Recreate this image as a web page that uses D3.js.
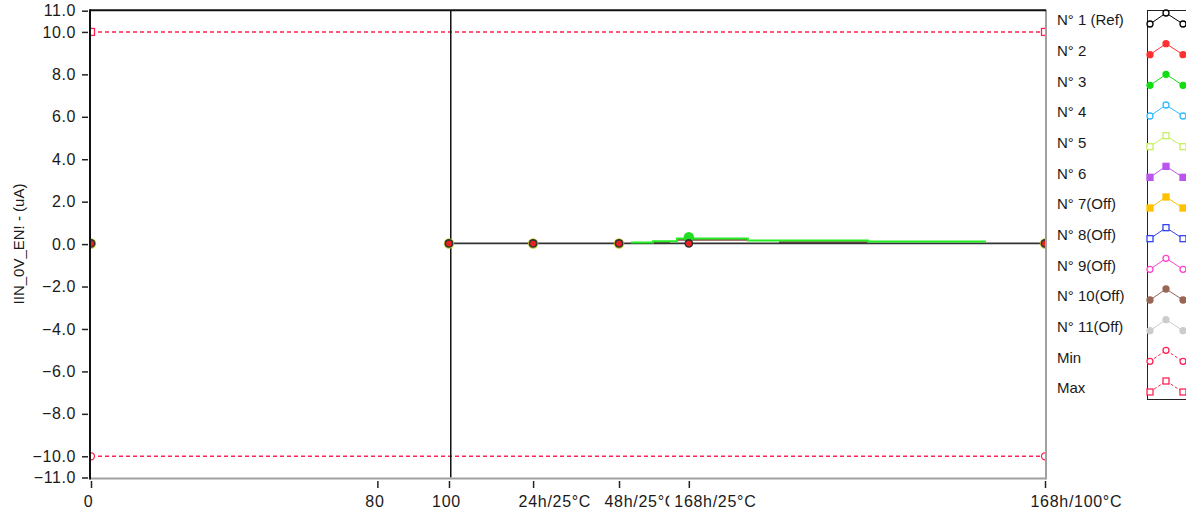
<!DOCTYPE html>
<html><head><meta charset="utf-8">
<script src="https://cdn.jsdelivr.net/npm/d3@7"></script>
<style>
body{margin:0;background:#fff}
svg{display:block}
text{font-family:"Liberation Sans",Arial,sans-serif;fill:#1a1a1a}
</style>
</head><body><svg id="c" width="1186" height="513"></svg>
<script>
// ---------- data ----------
const xTickValues = [0, 80, 100, 123.5, 147.5, 167, 266.5];
const xTickLabels = ["0", "80", "100", "24h/25°C", "48h/25°C", "168h/25°C", "168h/100°C"];
const yTickValues = [11, 10, 8, 6, 4, 2, 0, -2, -4, -6, -8, -10, -11];
const yAxisTitle = "IIN_0V_EN! - (uA)";
const seriesNames = ["N° 1 (Ref)", "N° 2", "N° 3", "N° 4", "N° 5", "N° 6", "N° 7(Off)",
  "N° 8(Off)", "N° 9(Off)", "N° 10(Off)", "N° 11(Off)", "Min", "Max"];
const pointX = [0, 80, 100, 123.5, 147.5, 167, 266.5];
const refValues = [0.03, null, 0.03, 0.03, 0.03, 0.03, 0.03];
const n2Values = [0.03, null, 0.03, 0.03, 0.03, 0.03, 0.03];
const n3Values = [0.03, null, 0.03, 0.03, 0.03, 0.33, 0.03];
const n3TraceX = [150.8, 157, 163.7, 183.5, 217, 250];
const n3TraceY = [0.08, 0.13, 0.26, 0.17, 0.12, 0.12];
const n10TraceX = [157, 161.7, 162, 163.7, 183.5, 185, 192.2, 217];
const n10TraceY = [0.07, 0.07, null, 0.21, 0.21, null, 0.09, 0.09];
const limitX = [0, 266.5];
const minValues = [-10, -10];
const maxValues = [10, 10];
const cursorX = 100.5;

// ---------- styles ----------
const seriesStyle = [
  {color: "#000000", shape: "circle", fill: false},
  {color: "#ff3030", shape: "circle", fill: true},
  {color: "#11dd11", shape: "circle", fill: true},
  {color: "#33bbff", shape: "circle", fill: false},
  {color: "#c4f060", shape: "square", fill: false},
  {color: "#bb55ee", shape: "square", fill: true},
  {color: "#ffc000", shape: "square", fill: true},
  {color: "#3344ee", shape: "square", fill: false},
  {color: "#ff44cc", shape: "circle", fill: false},
  {color: "#996655", shape: "circle", fill: true},
  {color: "#cccccc", shape: "circle", fill: true},
  {color: "#ff2255", shape: "circle", fill: false, dash: true},
  {color: "#ff2255", shape: "square", fill: false, dash: true}
];

const L = 91, R = 1045, T = 10.7, B = 477.5;
const svg = d3.select("#c");
const x = d3.scaleLinear().domain([0, 266.5]).range([L, R]);
const y = d3.scaleLinear().domain([-11, 11]).range([B, T]);

svg.append("defs").append("clipPath").attr("id", "plotclip")
  .append("rect").attr("x", L).attr("y", T - 1).attr("width", R - L).attr("height", B - T + 2);

// ---------- y axis ----------
const yAx = svg.append("g").attr("transform", "translate(88,0)")
  .call(d3.axisLeft(y).tickValues(yTickValues).tickFormat(d3.format(".1f"))
    .tickSize(6).tickSizeOuter(0).tickPadding(6));
yAx.select(".domain").remove();
yAx.selectAll("line").attr("stroke", "#222").attr("stroke-width", 1.5);
yAx.selectAll("text").attr("font-size", 16).attr("letter-spacing", "0.6px")
  .attr("font-family", "Liberation Sans, Arial, sans-serif").attr("fill", "#1a1a1a");

// ---------- x axis ----------
const xAx = svg.append("g").attr("transform", "translate(0,481)")
  .call(d3.axisBottom(x).tickValues(xTickValues).tickFormat((d, i) => xTickLabels[i])
    .tickSize(7).tickSizeOuter(0));
xAx.select(".domain").remove();
xAx.selectAll("line").attr("stroke", "#222").attr("stroke-width", 1.5);
xAx.selectAll(".tick").each(function (d, i) {
  const g = d3.select(this);
  const t = g.select("text");
  const isNum = !isNaN(+xTickLabels[i]);
  t.attr("font-size", 16).attr("letter-spacing", "0.7px")
    .attr("font-family", "Liberation Sans, Arial, sans-serif").attr("fill", "#1a1a1a")
    .attr("dy", 0).attr("y", 26)
    .attr("text-anchor", isNum ? "middle" : "start")
    .attr("x", isNum ? -3 : -15);
  const bb = t.node().getBBox();
  g.insert("rect", "text").attr("x", bb.x - 5).attr("y", bb.y).attr("width", bb.width + 5)
    .attr("height", bb.height).attr("fill", "#fff");
});

// y title
svg.append("text").attr("transform", "translate(24,244) rotate(-90)")
  .attr("text-anchor", "middle").attr("font-size", 15).text(yAxisTitle);

// ---------- plot content ----------
const plot = svg.append("g").attr("clip-path", "url(#plotclip)");

function marker(g, cx, cy, st, r) {
  if (st.shape === "circle") {
    g.append("circle").attr("cx", cx).attr("cy", cy).attr("r", r)
      .attr("fill", st.fill ? st.color : "#fff").attr("stroke", st.color).attr("stroke-width", 1.3);
  } else {
    g.append("rect").attr("x", cx - r).attr("y", cy - r).attr("width", 2 * r).attr("height", 2 * r)
      .attr("fill", st.fill ? st.color : "#fff").attr("stroke", st.color).attr("stroke-width", 1.3);
  }
}

// limits
[[minValues, seriesStyle[11]], [maxValues, seriesStyle[12]]].forEach(([vals, st]) => {
  const pts = limitX.map((d, i) => [x(d), y(vals[i])]);
  plot.append("path").attr("d", d3.line()(pts)).attr("fill", "none")
    .attr("stroke", st.color).attr("stroke-width", 1.5).attr("stroke-dasharray", "4,3");
  pts.forEach(p => marker(plot, p[0], p[1], st, 3.5));
});

// cursor
plot.append("line").attr("x1", x(cursorX)).attr("x2", x(cursorX)).attr("y1", T).attr("y2", B)
  .attr("stroke", "#111").attr("stroke-width", 1.5);

// N°10 trace
const n10Pts = n10TraceX.map((d, i) => [d, n10TraceY[i]]);
plot.append("path").attr("d", d3.line().defined(d => d[1] !== null).x(d => x(d[0])).y(d => y(d[1]))(n10Pts))
  .attr("fill", "none").attr("stroke", "#8a4a44").attr("stroke-width", 2);

// ref line
const refPts = pointX.map((d, i) => [d, refValues[i]]);
plot.append("path").attr("d", d3.line().defined(d => d[1] !== null).x(d => x(d[0])).y(d => y(d[1]))(refPts))
  .attr("fill", "none").attr("stroke", "#333").attr("stroke-width", 1.8);

// N°3 trace
const n3Pts = n3TraceX.map((d, i) => [d, n3TraceY[i]]);
plot.append("path").attr("d", d3.line().curve(d3.curveStepAfter).x(d => x(d[0])).y(d => y(d[1]))(n3Pts))
  .attr("fill", "none").attr("stroke", "#22ee22").attr("stroke-width", 2);

// markers
pointX.forEach((d, i) => {
  if (n3Values[i] !== null) {
    plot.append("circle").attr("cx", x(d)).attr("cy", y(n3Values[i])).attr("r", 5.2)
      .attr("fill", n3Values[i] > 0.1 ? "#22dd22" : "#c8c830");
  }
  if (refValues[i] !== null) {
    plot.append("circle").attr("cx", x(d)).attr("cy", y(refValues[i])).attr("r", 4.4)
      .attr("fill", "#333");
  }
  if (n2Values[i] !== null) {
    plot.append("circle").attr("cx", x(d)).attr("cy", y(n2Values[i])).attr("r", 2.8)
      .attr("fill", "#ee2020");
  }
});

// frame
svg.append("line").attr("x1", L - 1).attr("x2", R + 1).attr("y1", B + 1).attr("y2", B + 1)
  .attr("stroke", "#a0a0a0").attr("stroke-width", 2);
svg.append("line").attr("x1", R + 1).attr("x2", R + 1).attr("y1", T - 1).attr("y2", B + 2)
  .attr("stroke", "#a0a0a0").attr("stroke-width", 2);
svg.append("line").attr("x1", L - 1).attr("x2", R + 1).attr("y1", T - 0.5).attr("y2", T - 0.5)
  .attr("stroke", "#111").attr("stroke-width", 2);
svg.append("line").attr("x1", L - 1).attr("x2", L - 1).attr("y1", T - 1.5).attr("y2", B + 2)
  .attr("stroke", "#111").attr("stroke-width", 2);

// ---------- legend ----------
const lg = svg.append("g");
const rowY = d3.scalePoint().domain(seriesNames).range([20, 388]);
lg.append("rect").attr("x", 1147.5).attr("y", 10.5).attr("width", 60).attr("height", 389)
  .attr("fill", "#fff").attr("stroke", "#222").attr("stroke-width", 1);
seriesNames.forEach((name, i) => {
  const c = rowY(name);
  const st = seriesStyle[i];
  lg.append("text").attr("x", 1057).attr("y", c).attr("dy", "0.36em")
    .attr("font-size", 15).text(name);
  const pts = [[1150, c + 4], [1166, c - 7], [1183, c + 4], [1199, c - 7]];
  lg.append("path").attr("d", d3.line()(pts)).attr("fill", "none").attr("stroke", st.color)
    .attr("stroke-width", 1).attr("stroke-dasharray", st.dash ? "3,2" : null);
  pts.slice(0, 3).forEach(p => marker(lg, p[0], p[1], st, 3));
});
</script>
</body></html>
